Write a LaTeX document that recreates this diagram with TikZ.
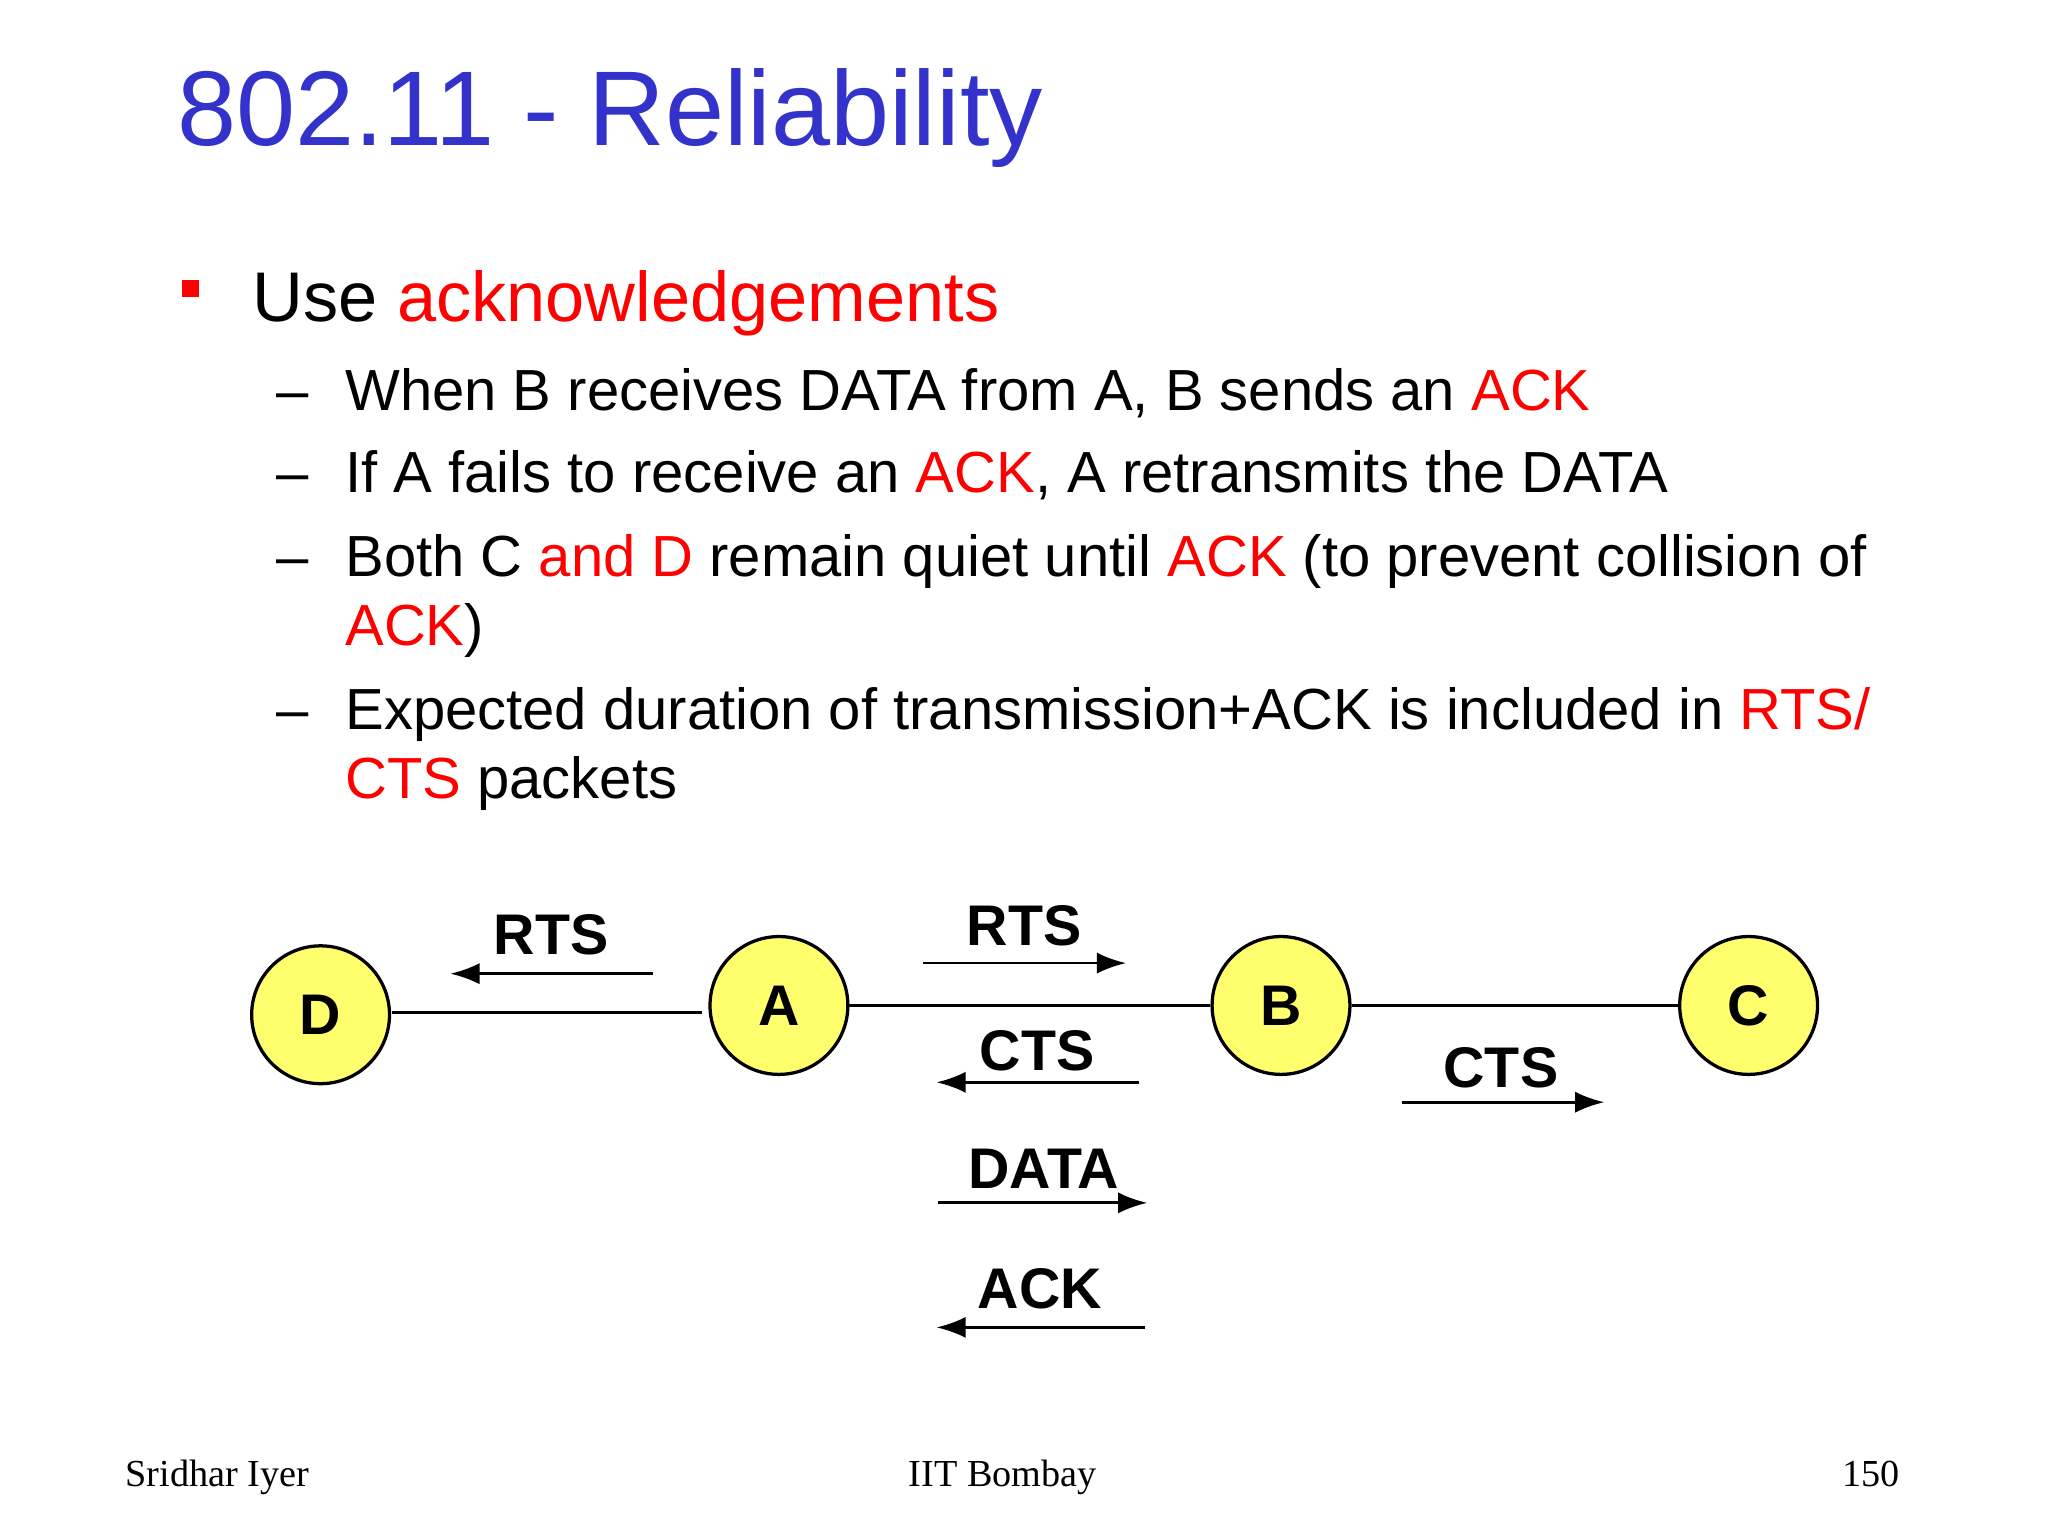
\documentclass[tikz,border=0pt]{standalone}
\usepackage{fontspec}
\setmainfont{Liberation Sans}
\newfontfamily\seriff{Liberation Serif}
\usetikzlibrary{arrows.meta}
\definecolor{ttl}{RGB}{51,51,204}
\definecolor{nodey}{RGB}{255,255,110}
\begin{document}
\begin{tikzpicture}[x=0.01cm,y=-0.01cm,
  stn/.style={circle,draw=black,line width=0.7pt,fill=nodey,minimum size=1.04cm,inner sep=0pt,font=\fontsize{12.3}{14}\selectfont\bfseries},
  lbl/.style={font=\fontsize{12.3}{14}\selectfont\bfseries,inner sep=0pt},
  msg/.style={line width=0.6pt,-{Latex[length=2.2mm,width=1.6mm]}},
  txt/.style={anchor=base west,inner sep=0pt,font=\fontsize{12.45}{15}\selectfont},
  foot/.style={anchor=base,inner sep=0pt,font=\seriff\fontsize{8.2}{10}\selectfont}]
\fill[white] (0,0) rectangle (1546,1160);
\useasboundingbox (0,0) rectangle (1546,1160);
\node[anchor=base west,inner sep=0pt,text=ttl,font=\fontsize{22.8}{27}\selectfont] (title) at (133,110) {802.11 - Reliability};
\node[fill=red,minimum size=0.13cm,inner sep=0pt] (sq) at (144,218) {};
\node[anchor=base west,inner sep=0pt,font=\fontsize{15.1}{18}\selectfont] (b1) at (190,243) {Use \textcolor{red}{acknowledgements}};
\node[txt] (d1) at (208,310) {--}; \node[txt] (t1) at (260,310) {When B receives DATA from A, B sends an \textcolor{red}{ACK}};
\node[txt] (d2) at (208,372) {--}; \node[txt] (t2) at (260,372) {If A fails to receive an \textcolor{red}{ACK}, A retransmits the DATA};
\node[txt] (d3) at (208,435) {--}; \node[txt] (t3) at (260,435) {Both C \textcolor{red}{and D} remain quiet until \textcolor{red}{ACK} (to prevent collision of};
\node[txt] (t3b) at (260,487) {\textcolor{red}{ACK})};
\node[txt] (d4) at (208,551) {--}; \node[txt] (t4) at (260,551) {Expected duration of transmission+ACK is included in \textcolor{red}{RTS/}};
\node[txt] (t4b) at (260,603) {\textcolor{red}{CTS} packets};
\node[stn] (D) at (242,766) {D};
\node[stn] (A) at (588,759) {A};
\node[stn] (B) at (967,759) {B};
\node[stn] (C) at (1320,759) {C};
\coordinate (dl) at (296,764); \coordinate (dr) at (530,764);
\draw[line width=0.6pt] (dl) -- (dr);
\draw[line width=0.6pt] (A) -- (B);
\draw[line width=0.6pt] (B) -- (C);
\node[lbl] (r1) at (416,706) {RTS};
\coordinate (r1s) at (493,735); \coordinate (r1e) at (340,735);
\draw[msg] (r1s) -- (r1e);
\node[lbl] (r2) at (773,699) {RTS};
\coordinate (r2s) at (697,727); \coordinate (r2e) at (850,727);
\draw[msg] (r2s) -- (r2e);
\node[lbl] (c1) at (783,793) {CTS};
\coordinate (c1s) at (860,817); \coordinate (c1e) at (707,817);
\draw[msg] (c1s) -- (c1e);
\node[lbl] (c2) at (1133,806) {CTS};
\coordinate (c2s) at (1058,832); \coordinate (c2e) at (1211,832);
\draw[msg] (c2s) -- (c2e);
\node[lbl] (da) at (788,882) {DATA};
\coordinate (das) at (708,908); \coordinate (dae) at (866,908);
\draw[msg] (das) -- (dae);
\node[lbl] (ak) at (785,973) {ACK};
\coordinate (aks) at (864,1002); \coordinate (ake) at (707,1002);
\draw[msg] (aks) -- (ake);
\node[foot,anchor=base west] (f1) at (94,1122) {Sridhar Iyer};
\node[foot] (f2) at (757,1122) {IIT Bombay};
\node[foot,anchor=base east] (f3) at (1435,1122) {150};
\end{tikzpicture}
\end{document}
